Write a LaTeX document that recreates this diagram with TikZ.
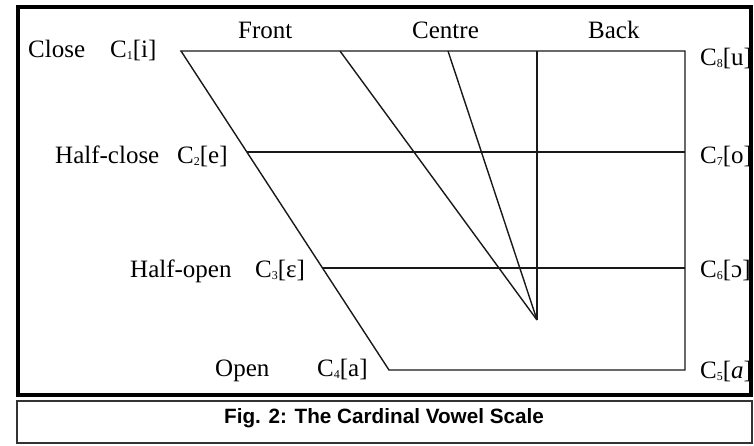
\documentclass[tikz,border=0pt]{standalone}
\usepackage{fontspec}
\setmainfont{Liberation Serif}
\newfontfamily\capfont{Liberation Sans}
\newcommand{\vsub}[1]{\raisebox{-2.5pt}{\fontsize{12}{12}\selectfont #1}}
\begin{document}
\begin{tikzpicture}[x=1pt, y=-1pt,
  chartline/.style={line width=1.4pt, black!90},
  lbl/.style={anchor=base west, inner sep=0pt, font=\fontsize{25}{30}\selectfont},
  frameline/.style={line width=4.5pt},
  capbox/.style={line width=1.3pt, draw=black!80}]
\useasboundingbox (0,0) rectangle (754,445);

% outer frame and caption box
\draw[frameline] (18,7) rectangle (751,395);
\draw[capbox] (17,401) rectangle (752,443);
\node[anchor=base, inner sep=0pt, font=\capfont\bfseries\fontsize{20.7}{24}\selectfont] (caption) at (384,423) {Fig. 2: The Cardinal Vowel Scale};

% corners of the vowel quadrilateral
\coordinate (c1) at (181,51);
\coordinate (c8) at (685,51);
\coordinate (c4) at (389,370);
\coordinate (c5) at (685,370);
\coordinate (c2) at (247,152);
\coordinate (c7) at (685,152);
\coordinate (c3) at (323,268);
\coordinate (c6) at (685,268);
% tops of the inner lines and their meeting point
\coordinate (ftop) at (340,51);
\coordinate (ctop) at (448,51);
\coordinate (btop) at (537,51);
\coordinate (apex) at (537,320);

\draw[chartline] (c1) -- (c8) -- (c5) -- (c4) -- cycle;
\draw[chartline] (c2) -- (c7);
\draw[chartline] (c3) -- (c6);
\draw[chartline] (ftop) -- (apex);
\draw[chartline] (ctop) -- (apex);
\draw[chartline] (btop) -- (apex);

% column headings
\node[lbl] (front) at (238,38) {Front};
\node[lbl] (centre) at (412,38) {Centre};
\node[lbl] (back) at (588,38) {Back};

% row labels and vowel symbols, left side
\node[lbl] (close) at (28,57) {Close};
\node[lbl] (v1) at (110,57) {C\vsub{1}[i]};
\node[lbl] (halfclose) at (55,163) {Half-close};
\node[lbl] (v2) at (177,163) {C\vsub{2}[e]};
\node[lbl] (halfopen) at (130,277) {Half-open};
\node[lbl] (v3) at (255,277) {C\vsub{3}[ɛ]};
\node[lbl] (open) at (215,376) {Open};
\node[lbl] (v4) at (317,376) {C\vsub{4}[a]};

% vowel symbols, right side
\node[lbl] (v8) at (700,65) {C\vsub{8}[u]};
\node[lbl] (v7) at (700,163) {C\vsub{7}[o]};
\node[lbl] (v6) at (700,277) {C\vsub{6}[ɔ]};
\node[lbl] (v5) at (700,378) {C\vsub{5}[\textit{a}]};
\end{tikzpicture}
\end{document}
